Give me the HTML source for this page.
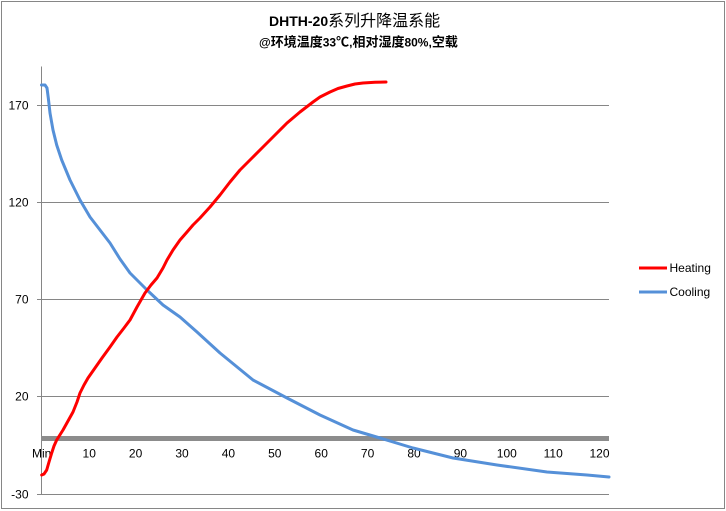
<!DOCTYPE html>
<html>
<head>
<meta charset="utf-8">
<style>
html,body{margin:0;padding:0;background:#fff;}
svg{display:block;}
text{font-family:"Liberation Sans","Noto Sans CJK SC",sans-serif;fill:#000;}
.cjk{font-family:"Noto Sans CJK SC","WenQuanYi Zen Hei",sans-serif;}
</style>
</head>
<body>
<svg width="726" height="511" viewBox="0 0 726 511" xmlns="http://www.w3.org/2000/svg">
  <rect x="0" y="0" width="726" height="511" fill="#fff"/>
  <rect x="1.5" y="1.5" width="723" height="507" fill="none" stroke="#868686" stroke-width="1"/>

  <!-- Title -->
  <text x="269" y="26" font-size="14" font-weight="bold">DHTH-20<tspan class="cjk" font-size="16" font-weight="normal">系列升降温系能</tspan></text>
  <text x="259" y="46.5" font-size="12" font-weight="bold">@<tspan class="cjk" font-size="13">环境温度</tspan>33<tspan class="cjk" font-size="13">℃</tspan>,<tspan class="cjk" font-size="13">相对湿度</tspan>80%,<tspan class="cjk" font-size="13">空载</tspan></text>

  <!-- gridlines -->
  <g stroke="#868686" stroke-width="1" shape-rendering="crispEdges">
    <line x1="37" y1="105.5" x2="609" y2="105.5"/>
    <line x1="37" y1="202.5" x2="609" y2="202.5"/>
    <line x1="37" y1="299.5" x2="609" y2="299.5"/>
    <line x1="37" y1="396.5" x2="609" y2="396.5"/>
    <line x1="37" y1="494.5" x2="609" y2="494.5"/>
    <line x1="41.5" y1="66.5" x2="41.5" y2="494.5"/>
  </g>
  <!-- thick gray zero line -->
  <rect x="41" y="436" width="568" height="5" fill="#8c8c8c"/>

  <!-- y labels -->
  <g font-size="12" text-anchor="end">
    <text x="28.5" y="109.5">170</text>
    <text x="28.5" y="206.5">120</text>
    <text x="28.5" y="303.5">70</text>
    <text x="28.5" y="400.5">20</text>
    <text x="28.5" y="498.5">-30</text>
  </g>

  <!-- x labels -->
  <g font-size="12" text-anchor="middle">
    <text x="41.7" y="457.5">Min</text>
    <text x="89.2" y="457.5">10</text>
    <text x="135.6" y="457.5">20</text>
    <text x="182" y="457.5">30</text>
    <text x="228.4" y="457.5">40</text>
    <text x="274.8" y="457.5">50</text>
    <text x="321.2" y="457.5">60</text>
    <text x="367.6" y="457.5">70</text>
    <text x="414" y="457.5">80</text>
    <text x="460.4" y="457.5">90</text>
    <text x="506.8" y="457.5">100</text>
    <text x="553.2" y="457.5">110</text>
    <text x="599.5" y="457.5">120</text>
  </g>

  <!-- Cooling -->
  <polyline fill="none" stroke="#5590D8" stroke-width="3" stroke-linejoin="round" stroke-linecap="round"
    points="41.5,85 45,85 47,88 48.3,98 50,113 53,130 56.7,145 61.7,160 70,180 80,200 90,217 100,230 110,243 120,259 130,273 147,290 163,305 180,317 197,332 220,353 253,380 287,398 320,415 353,430 380,438 413,448 453,458 497,465 547,472 587,475 609,477"/>

  <!-- Heating -->
  <polyline fill="none" stroke="#ff0000" stroke-width="3" stroke-linejoin="round" stroke-linecap="round"
    points="41.7,475 44,474 46.7,470 49,462 51.7,453 54,446 56.7,440 63,430 68,421 73,412 77,402 80,393 84,385 88,378 95,368 102,358 110,347 117,337 124,328 130,320 137,307 145,293 151,285 157,278 163,268 167,260 173,250 180,240 187,232 193,225 200,218 210,207 220,195 230,182 240,170 252,158 263,147 275,135 287,123 300,112 313,102 320,97 330,92 338,88.5 347,86 355,84 363,83 375,82.3 386,82"/>

  <!-- Legend -->
  <line x1="639" y1="268" x2="667" y2="268" stroke="#ff0000" stroke-width="3"/>
  <text x="669.5" y="272" font-size="12">Heating</text>
  <line x1="639" y1="292" x2="667" y2="292" stroke="#5590D8" stroke-width="3"/>
  <text x="669.5" y="296" font-size="12">Cooling</text>
</svg>
</body>
</html>
